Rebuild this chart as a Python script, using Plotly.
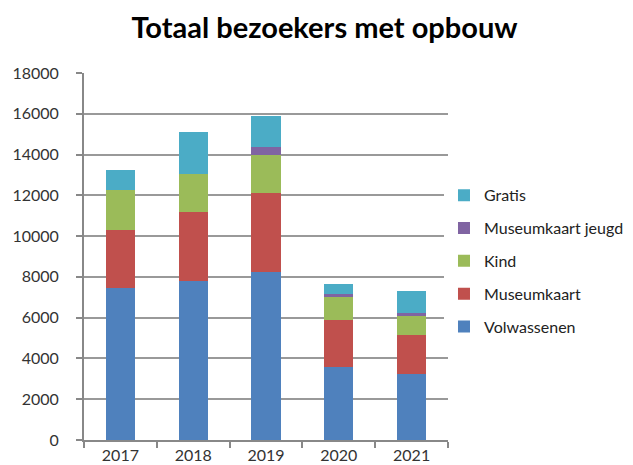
import plotly.graph_objects as go

years = ["2017", "2018", "2019", "2020", "2021"]
volwassenen = [7450, 7800, 8250, 3600, 3250]
museumkaart = [2850, 3400, 3850, 2300, 1900]
kind = [1950, 1850, 1900, 1100, 950]
museumkaart_jeugd = [0, 0, 350, 150, 150]
gratis = [970, 2050, 1550, 500, 1050]

series = [
    ("Volwassenen", volwassenen, "#4F81BD"),
    ("Museumkaart", museumkaart, "#C0504D"),
    ("Kind", kind, "#9BBB59"),
    ("Museumkaart jeugd", museumkaart_jeugd, "#8064A2"),
    ("Gratis", gratis, "#4BACC6"),
]

fig = go.Figure()
n = len(series)
for i, (name, vals, col) in enumerate(series):
    fig.add_trace(go.Bar(x=years, y=vals, name=name, marker=dict(color=col, line=dict(width=0)),
                         legendgroup=name, legendrank=n - i))

font = "Lato, Carlito, Calibri, sans-serif"
fig.update_layout(
    barmode="stack",
    bargap=0.6,
    width=633, height=465,
    paper_bgcolor="white", plot_bgcolor="white",
    margin=dict(l=76, r=193, t=65, b=33, autoexpand=False),
    font=dict(family=font, size=16, color="#333333"),
    title=dict(text="<b>Totaal bezoekers met opbouw</b>", x=0.5, xanchor="center",
               y=0.958, yanchor="middle", font=dict(size=29, color="#000000", family=font)),
    legend=dict(x=0.989, y=0.713, xanchor="left", yanchor="top", traceorder="grouped",
                tracegroupgap=9, font=dict(size=16, color="#222222"), itemwidth=30),
    xaxis=dict(type="category", showline=True, linecolor="#888888", linewidth=2,
               ticks="outside", tickson="boundaries", ticklen=6, tickcolor="#888888",
               tickwidth=2, showgrid=False, automargin=False),
    yaxis=dict(range=[0, 18000], dtick=2000, tickformat="d", showline=True,
               linecolor="#888888", linewidth=2,
               ticks="outside", ticklen=6, tickcolor="#888888", tickwidth=2,
               ticklabelstandoff=14, automargin=False,
               showgrid=True, gridcolor="#999999", gridwidth=2, zeroline=False),
)

fig.write_html("out.html")
